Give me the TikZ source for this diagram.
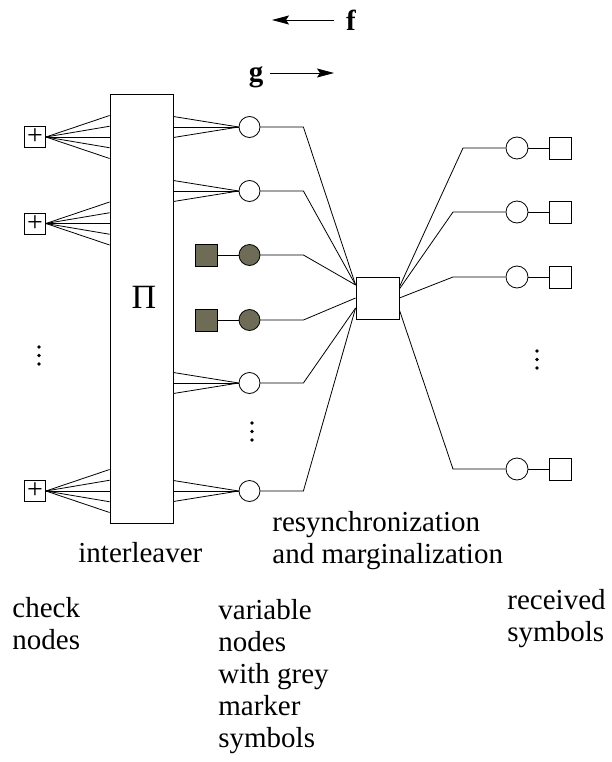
\documentclass[tikz,border=0pt]{standalone}
\usepackage{fontspec}
\setmainfont{Liberation Serif}
\newfontfamily\labelfont{Liberation Serif}
\usetikzlibrary{arrows.meta}

\definecolor{markergrey}{RGB}{110,108,86}
\tikzset{
	chknode/.style = {draw, minimum size=21pt, inner sep=0pt, font=\labelfont\fontsize{28}{28}\selectfont},
	varnode/.style = {draw, circle, minimum size=21pt, inner sep=0pt},
	marknode/.style = {draw, fill=markergrey, minimum size=22pt, inner sep=0pt},
	rxnode/.style = {draw, minimum size=22pt, inner sep=0pt},
	lbl/.style = {anchor=base west, align=left, inner sep=0pt, font=\labelfont\fontsize{29}{32}\selectfont},
	flow/.style = {-{Stealth[length=17pt, width=9pt, inset=3pt]}},
}

\begin{document}
\begin{tikzpicture}[x=1pt, y=-1pt, line width=0.8pt]
		\useasboundingbox (0,0) rectangle (612,762);
		\node[font=\labelfont\bfseries\fontsize{29}{32}\selectfont, anchor=base, inner sep=0pt] (flbl) at (351,31) {f};
		\node[font=\labelfont\bfseries\fontsize{29}{32}\selectfont, anchor=base, inner sep=0pt] (glbl) at (256,82) {g};
		\coordinate (fa) at (334,20);
		\coordinate (fb) at (272,20);
		\coordinate (ga) at (270,73);
		\coordinate (gb) at (334,73);
		\draw[flow] (fa) -- (fb);
		\draw[flow] (ga) -- (gb);
		\node[draw, minimum width=63pt, minimum height=429pt, inner sep=0pt] (pi) at (141.5,308.5) {};
		\node[inner sep=0pt, font=\labelfont\fontsize{34}{34}\selectfont] (pisym) at (144,297) {Π};
		\node[draw, minimum width=43pt, minimum height=42pt, inner sep=0pt] (rs) at (377.5,298) {};
		\foreach \i/\y in {1/137, 2/223.5, 3/491} {
			\node[chknode] (chk\i) at (35,\y) {+};
			\foreach \d in {-21.5,-10.75,0,10.75,21.5}
				\draw (chk\i.east) -- (pi.west |- 0,\y+\d);
		}
		\foreach \n/\y in {v1/127, v2/191, v5/383, v6/491} {
			\node[varnode] (\n) at (249.5,\y) {};
			\foreach \d in {-10.5,0,10.5}
				\draw (pi.east |- 0,\y+\d) -- (\n.west);
		}
		\node[marknode] (m3) at (206,255) {};
		\node[varnode, fill=markergrey] (v3) at (249.5,255) {};
		\node[marknode] (m4) at (206,320) {};
		\node[varnode, fill=markergrey] (v4) at (249.5,320) {};
		\draw (m3) -- (v3);
		\draw (m4) -- (v4);
		\foreach \n/\e in {v1/285, v2/285, v3/285, v4/298, v5/308, v6/308}
			\draw (\n.east) -- ++(43,0) -- (rs.west |- 0,\e);
		\foreach \i/\y/\s/\k in {1/148/287/463, 2/212/289/453, 3/277/298/453, 4/469/310/453} {
			\node[varnode, minimum size=22pt] (r\i) at (517,\y) {};
			\node[rxnode] (s\i) at (560,\y) {};
			\draw (r\i) -- (s\i);
			\draw (rs.east |- 0,\s) -- (\k,\y) -- (r\i.west);
		}
		\foreach \x/\y in {39/347, 252/423, 537/351}
			\foreach \k in {0,8.5,17}
				\fill (\x,\y+\k) circle[radius=1.8pt];
		\node[lbl] (ilv) at (78,562) {interleaver};
		\node[lbl] (rsm) at (272,563) {resynchronization\\and marginalization};
		\node[lbl] (chkl) at (12,649) {check\\nodes};
		\node[lbl] (varl) at (218,747) {variable\\nodes\\with grey\\marker\\symbols};
		\node[lbl] (rxl) at (507,641) {received\\symbols};
	\end{tikzpicture}
\end{document}
